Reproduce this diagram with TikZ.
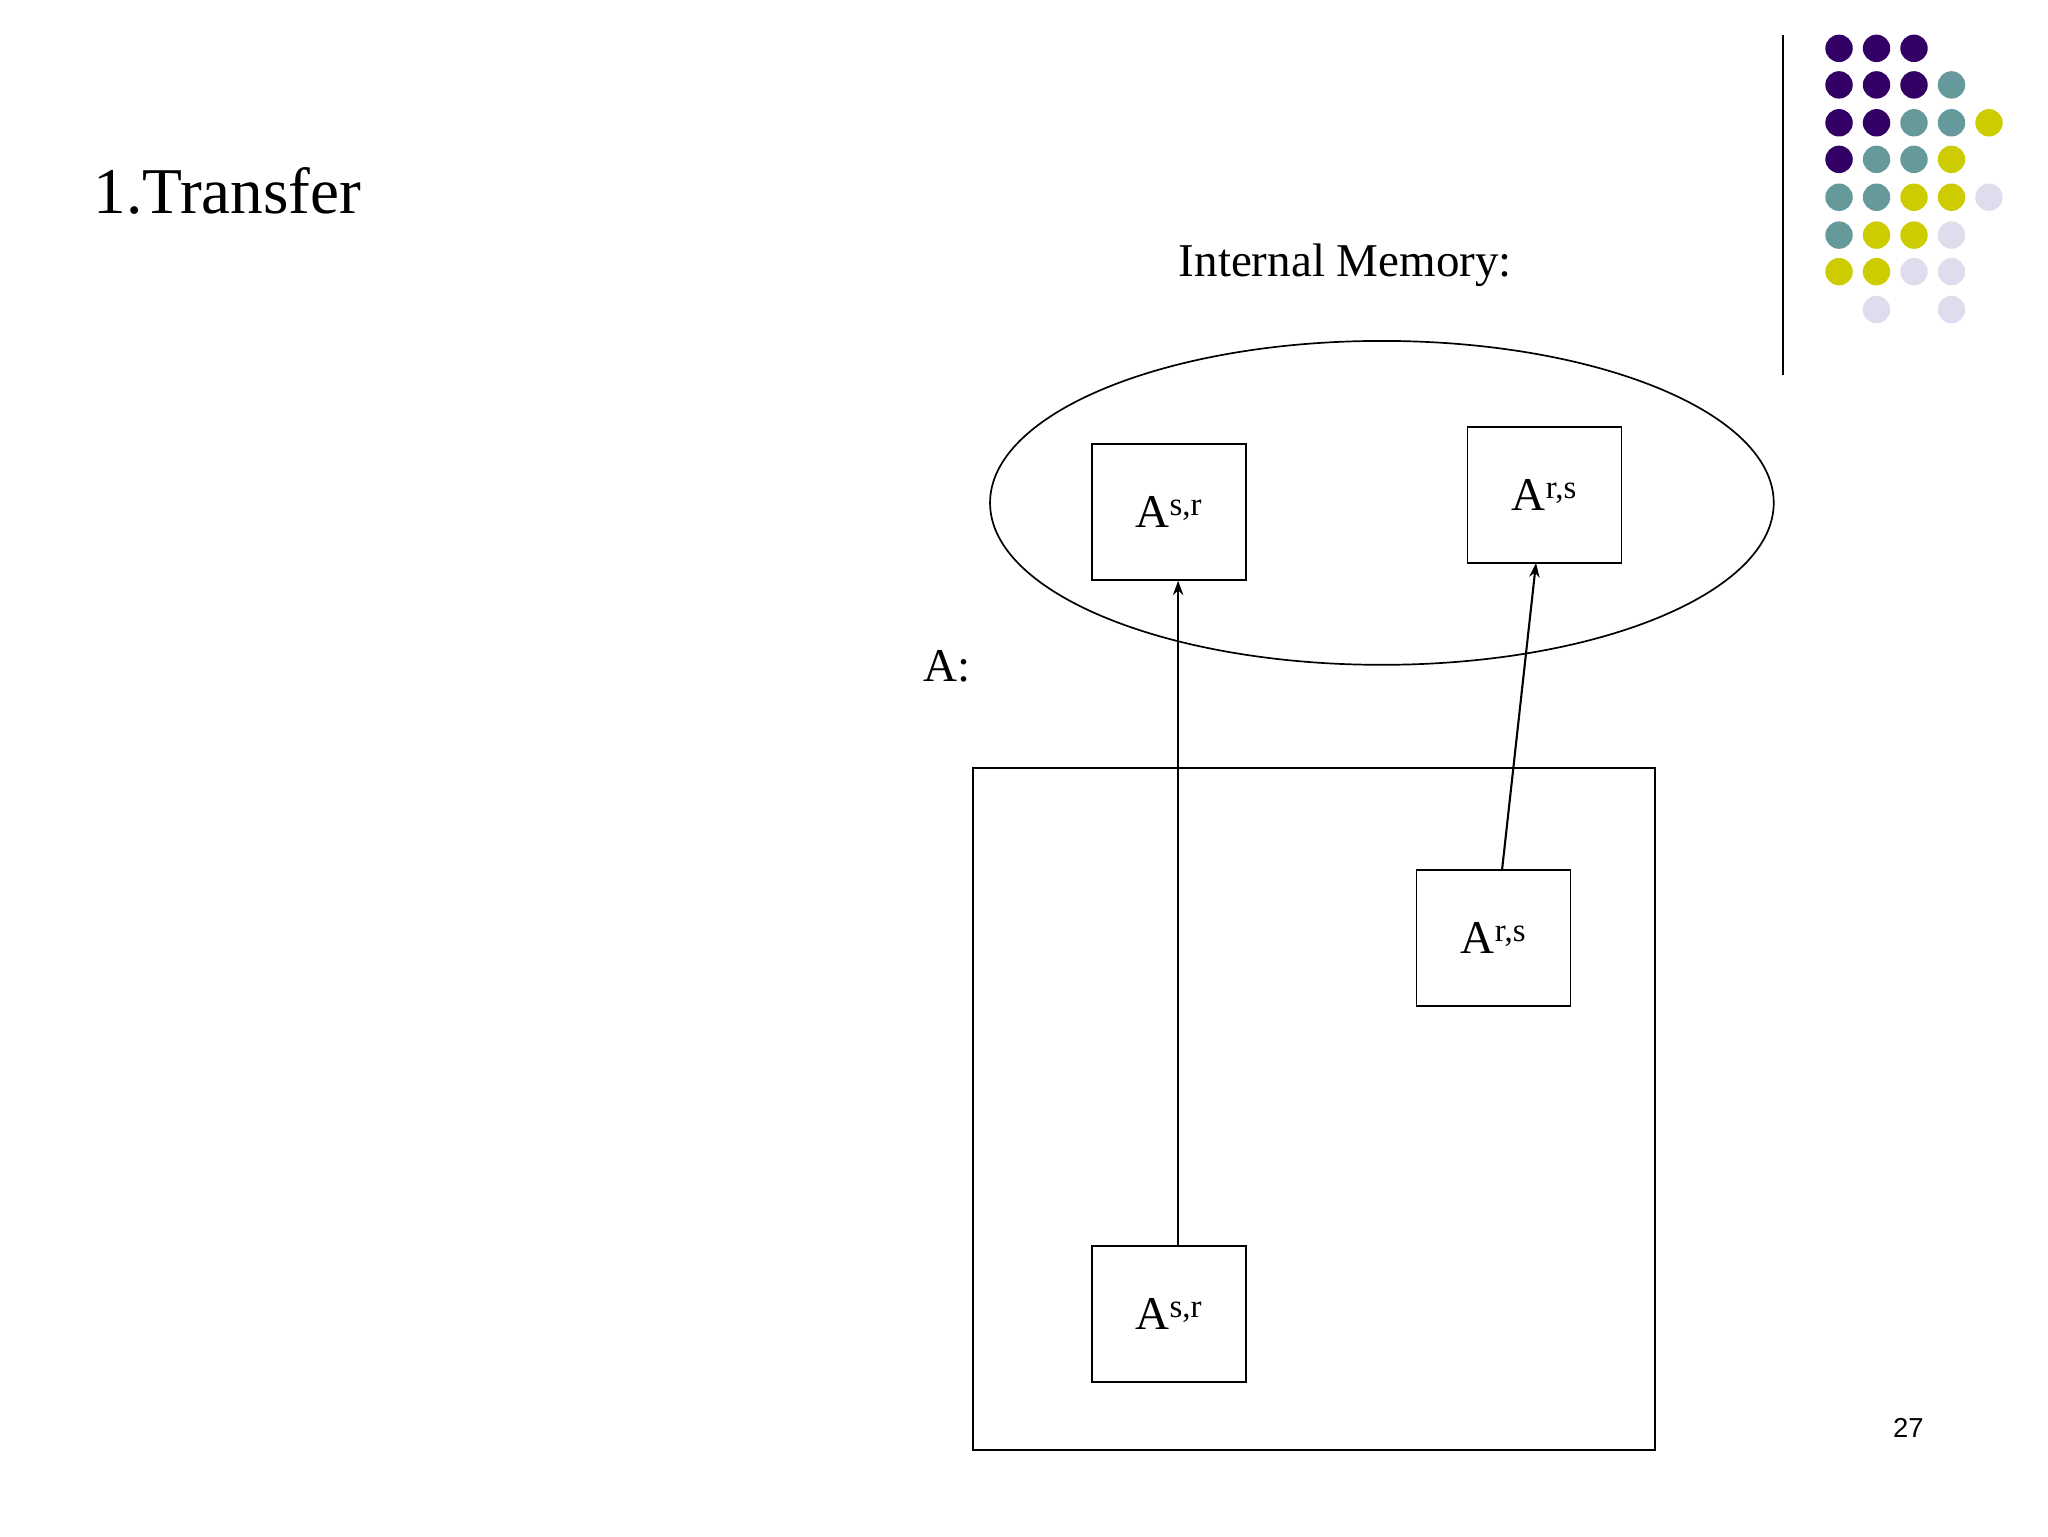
\documentclass[tikz,border=0pt]{standalone}
\usepackage{fontspec}
\setmainfont{Liberation Serif}
\newfontfamily\sansf{Liberation Sans}
\usetikzlibrary{arrows.meta,shapes.geometric}
\definecolor{dP}{HTML}{330066}
\definecolor{dT}{HTML}{669999}
\definecolor{dY}{HTML}{CCCC00}
\definecolor{dL}{HTML}{DDDDEE}
\begin{document}
\begin{tikzpicture}[x=1pt,y=-1pt,
  box/.style={draw,line width=1.3pt,minimum width=118pt,minimum height=104pt,inner sep=0pt},
  lab/.style={font=\fontsize{36}{40}\selectfont},
  arr/.style={line width=1.6pt,-{Stealth[length=11pt,width=8pt]}}]
\useasboundingbox (0,0) rectangle (1568,1176);
\node[anchor=west,font=\fontsize{50}{56}\selectfont] (title) at (68,146) {1.Transfer};
\node[lab] (im) at (1030,203) {Internal Memory:};
\node[lab] (alab) at (725,510) {A:};
\node[font=\sansf\fontsize{21}{24}\selectfont] (num) at (1461,1093) {27};
\draw[line width=1.3pt] (1365,27) -- (1365,287);
\node[draw,ellipse,line width=1.3pt,minimum width=600pt,minimum height=248pt,inner sep=0pt] (mem) at (1058,385) {};
\node[draw,line width=1.3pt,minimum width=522pt,minimum height=522pt,inner sep=0pt] (big) at (1006,849) {};
\node[box,lab] (m1) at (895,392) {A\textsuperscript{s,r}};
\node[box,lab] (m2) at (1182.5,379) {A\textsuperscript{r,s}};
\node[box,lab] (a2) at (1143.5,718) {A\textsuperscript{r,s}};
\node[box,lab] (a1) at (895,1006) {A\textsuperscript{s,r}};
\draw[arr] (a1.north -| 902,0) -- (m1.south -| 902,0);
\coordinate (s2) at (1150,666);
\coordinate (e2) at (1176,431);
\draw[arr] (s2) -- (e2);
\foreach \r/\list in {37/{0/dP,1/dP,2/dP},65/{0/dP,1/dP,2/dP,3/dT},94/{0/dP,1/dP,2/dT,3/dT,4/dY},122/{0/dP,1/dT,2/dT,3/dY},151/{0/dT,1/dT,2/dY,3/dY,4/dL},180/{0/dT,1/dY,2/dY,3/dL},208/{0/dY,1/dY,2/dL,3/dL},237/{1/dL,3/dL}}
  \foreach \c/\col in \list
    \fill[\col] (1408+28.7*\c,\r) circle (10.5);
\end{tikzpicture}
\end{document}
